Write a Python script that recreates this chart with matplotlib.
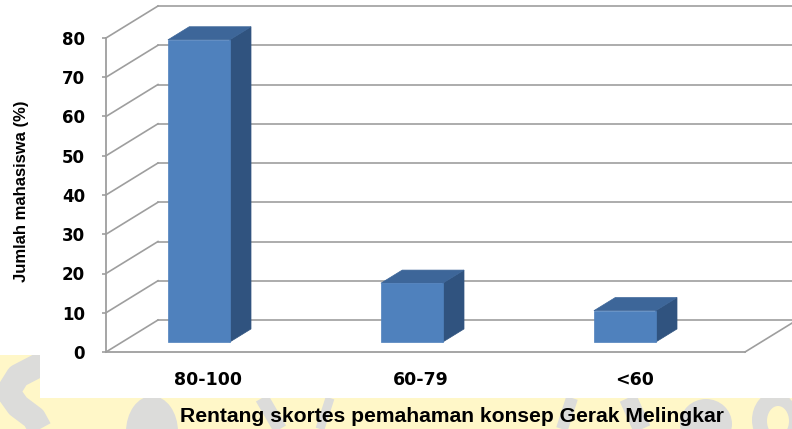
import matplotlib
matplotlib.use("Agg")
import matplotlib.pyplot as plt
from matplotlib.patches import Polygon, Ellipse
from matplotlib.lines import Line2D

# ---------------- data ----------------
categories = ["80-100", "60-79", "<60"]
values = [77, 15, 8]
y_ticks = [0, 10, 20, 30, 40, 50, 60, 70, 80]
x_title = "Rentang skortes pemahaman konsep Gerak Melingkar"
y_title = "Jumlah mahasiswa (%)"

# ---------------- style ----------------
W, H = 792, 429
GRID = "#9E9E9E"
FRONT = "#4F81BD"
TOP = "#3D6699"
SIDE = "#30537F"
YELLOW = "#FFF7C8"
WMGRAY = "#DCDCDA"

fig = plt.figure(figsize=(W / 100, H / 100), dpi=100)
fig.patch.set_facecolor("white")

def fx(px):
    return px / W

def fy(py):
    return 1 - py / H

# watermark region (decorative background)
region = [(0, 355), (40, 355), (40, 398), (W, 398), (W, H), (0, H)]
ypoly = Polygon([(fx(a), fy(b)) for a, b in region], closed=True,
                transform=fig.transFigure, facecolor=YELLOW, edgecolor="none", zorder=0)
fig.patches.append(ypoly)

strokes = [
    ([(45, 362), (18, 376), (8, 392), (18, 406), (34, 418), (40, 429)], 24),
    ([(262, 398), (280, 429)], 14),
    ([(330, 398), (320, 429)], 9),
    ([(572, 398), (562, 429)], 12),
    ([(628, 398), (642, 429)], 18),
]
for pts, lw in strokes:
    ln = Line2D([fx(p[0]) for p in pts], [fy(p[1]) for p in pts],
                transform=fig.transFigure, color=WMGRAY, lw=lw * 0.72,
                solid_capstyle="butt", solid_joinstyle="round", zorder=0.5)
    ln.set_clip_path(ypoly)
    fig.lines.append(ln)

blobs = [((152, 432), 52, 72, WMGRAY), ((706, 424), 52, 50, WMGRAY),
         ((775, 420), 46, 56, WMGRAY), ((778, 421), 22, 30, YELLOW)]
for (cx, cy), w, h, col in blobs:
    e = Ellipse((fx(cx), fy(cy)), w / W, h / H, transform=fig.transFigure,
                facecolor=col, edgecolor="none", zorder=0.5)
    e.set_clip_path(ypoly)
    fig.patches.append(e)

# ---------------- axes (front plane) ----------------
ax = fig.add_axes([fx(106), fy(352), (745 - 106) / W, (352 - 38) / H])
ax.set_xlim(0, 3)
ax.set_ylim(0, 80)
ax.set_facecolor("none")
ax.set_zorder(2)

# depth offsets in data units (52 px right, 32 px up for full depth)
px_x = (745 - 106) / 3.0
px_y = (352 - 38) / 80.0
DX = 52 / px_x
DY = 32 / px_y

for s in ["top", "right"]:
    ax.spines[s].set_visible(False)
for s in ["left", "bottom"]:
    ax.spines[s].set_color(GRID)
    ax.spines[s].set_linewidth(1.3)

ax.set_yticks(y_ticks)
ax.set_yticklabels([str(t) for t in y_ticks], fontsize=12, fontweight="bold",
                   family="DejaVu Sans")
ax.tick_params(axis="y", direction="out", length=3, width=1.2, color=GRID, pad=12)
ax.set_xticks([i + 0.48 for i in range(len(categories))])
ax.set_xticklabels(categories, fontsize=12.5, fontweight="bold", family="DejaVu Sans")
ax.tick_params(axis="x", length=0, pad=14)

# walls / gridlines
for t in y_ticks:
    ax.plot([0, DX], [t, t + DY], color=GRID, lw=1.2, clip_on=False, zorder=1)
    ax.plot([DX, 3 + DX], [t + DY, t + DY], color=GRID, lw=1.2, clip_on=False, zorder=1)
ax.plot([3, 3 + DX], [0, DY], color=GRID, lw=1.2, clip_on=False, zorder=1)

# bars
z0, z1 = 0.31, 0.72
bw = 0.29
shift = -0.14
for i, v in enumerate(values):
    xc = i + 0.5 + shift
    x0, x1 = xc - bw / 2, xc + bw / 2
    fa = [(x0 + z0 * DX, z0 * DY), (x1 + z0 * DX, z0 * DY),
          (x1 + z0 * DX, v + z0 * DY), (x0 + z0 * DX, v + z0 * DY)]
    top = [(x0 + z0 * DX, v + z0 * DY), (x1 + z0 * DX, v + z0 * DY),
           (x1 + z1 * DX, v + z1 * DY), (x0 + z1 * DX, v + z1 * DY)]
    side = [(x1 + z0 * DX, z0 * DY), (x1 + z1 * DX, z1 * DY),
            (x1 + z1 * DX, v + z1 * DY), (x1 + z0 * DX, v + z0 * DY)]
    for poly, col in [(side, SIDE), (top, TOP), (fa, FRONT)]:
        ax.add_patch(Polygon(poly, closed=True, facecolor=col, edgecolor=col,
                             lw=0.5, zorder=3, clip_on=False))

# titles
fig.text(fx(22), fy(191), y_title, rotation=90, ha="center", va="center",
         fontsize=12, fontweight="bold", family="Liberation Sans")
fig.text(fx(452), fy(416), x_title, ha="center", va="center",
         fontsize=15.2, fontweight="bold", family="Liberation Sans")

fig.savefig("out.png", dpi=100)
